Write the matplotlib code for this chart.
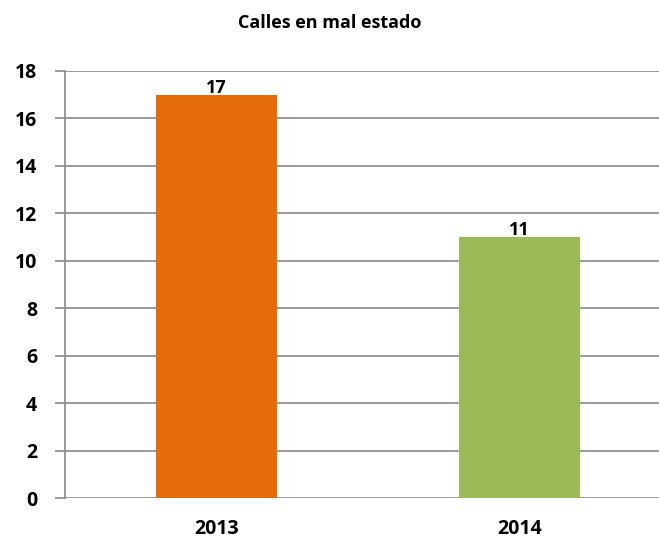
import matplotlib.pyplot as plt

plt.rcParams['font.family'] = ['Open Sans', 'DejaVu Sans']

years = ['2013', '2014']
values = [17, 11]
bar_colors = ['#E46C0A', '#9BBB59']
yticks = list(range(0, 19, 2))

fig = plt.figure(figsize=(6.59, 5.44), dpi=100)
# plot area runs past the right edge, as in the original
ax = fig.add_axes([65 / 659, 46 / 544, 606 / 659, 427 / 544])

ax.bar(range(len(years)), values, width=0.4, color=bar_colors, zorder=3)
for i, v in enumerate(values):
    ax.text(i, v - 0.08, str(v), ha='center', va='bottom', fontsize=13,
            fontweight='bold', zorder=4)

ax.set_xlim(-0.5, 1.5)
ax.set_ylim(0, 18)
ax.set_yticks(yticks)
ax.set_xticks(range(len(years)))
ax.set_xticklabels(years)

grid_col = '#898989'
ax.yaxis.grid(True, color=grid_col, linewidth=1.2, zorder=0)
for side in ['top', 'right', 'bottom']:
    ax.spines[side].set_visible(False)
ax.spines['left'].set_color(grid_col)
ax.spines['left'].set_linewidth(1.2)
ax.tick_params(axis='y', length=7, width=1.2, color=grid_col, pad=13,
               labelsize=14)
ax.tick_params(axis='x', length=0, pad=15, labelsize=14)
for lbl in ax.get_xticklabels() + ax.get_yticklabels():
    lbl.set_fontweight('bold')

fig.text(0.5, 1 - 23 / 544, 'Calles en mal estado', ha='center', va='center',
         fontsize=13, fontweight='bold')

fig.savefig('out.png', dpi=100)
